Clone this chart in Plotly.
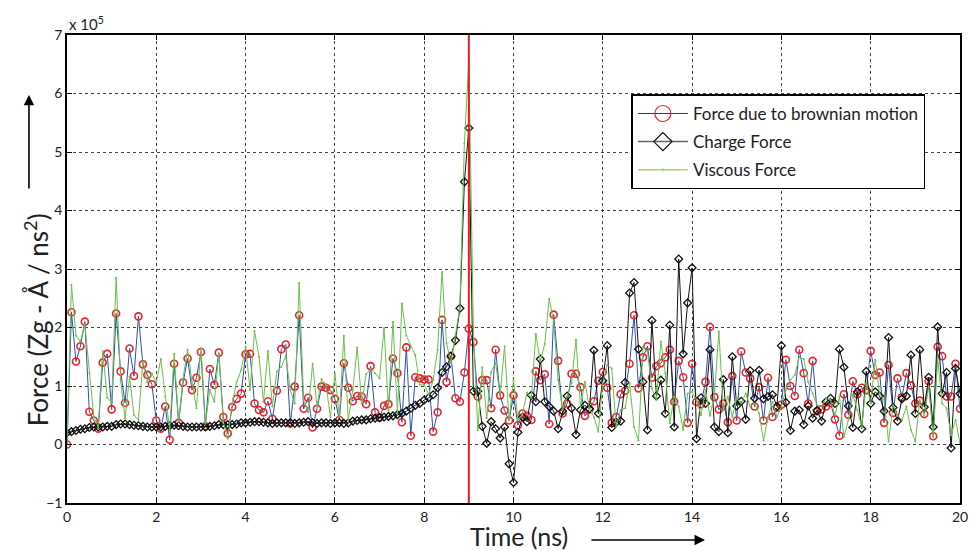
import plotly.graph_objects as go

# time samples (ns), 0.1 ns spacing
time_ns = [round(0.1 * i, 1) for i in range(201)]

# Force values in units of 1e5 (Zg·Å/ns²)
brownian = [
    0.00, 2.26, 1.42, 1.68, 2.10, 0.56, 0.41, 0.27, 1.40, 1.55,
    0.60, 2.24, 1.25, 0.71, 1.64, 1.17, 2.19, 1.37, 1.19, 1.03,
    0.41, 0.27, 0.65, 0.08, 1.38, 0.37, 1.06, 1.47, 0.93, 1.14,
    1.58, 0.31, 1.29, 1.02, 1.57, 0.47, 0.19, 0.64, 0.78, 0.87,
    1.54, 1.55, 0.70, 0.59, 0.55, 0.74, 0.44, 0.92, 1.63, 1.71,
    0.36, 0.99, 2.21, 0.61, 0.80, 0.29, 0.61, 0.99, 0.97, 0.93,
    0.78, 0.42, 1.39, 0.97, 0.74, 0.83, 0.82, 0.69, 1.34, 0.55,
    0.46, 0.66, 0.69, 1.47, 1.22, 0.38, 1.66, 0.15, 1.15, 1.13,
    1.11, 1.11, 0.22, 0.55, 2.13, 1.07, 1.51, 0.79, 0.73, 1.23,
    1.98, 1.75, 0.82, 1.10, 1.10, 0.62, 1.62, 0.84, 0.58, 0.41,
    0.84, 0.33, 0.53, 0.49, 0.42, 1.25, 1.10, 1.20, 0.35, 2.22,
    1.43, 0.53, 0.70, 1.21, 1.21, 0.98, 0.49, 0.60, 0.74, 1.09,
    1.24, 0.97, 0.37, 0.47, 0.86, 0.92, 1.38, 2.21, 0.96, 1.49,
    1.68, 1.14, 1.34, 1.39, 1.49, 1.62, 0.73, 1.43, 1.15, 0.37,
    1.38, 0.73, 0.69, 1.07, 2.01, 0.81, 0.60, 0.70, 0.38, 1.17,
    0.41, 1.59, 1.23, 1.13, 0.65, 0.98, 0.41, 1.14, 0.47, 0.63,
    0.68, 1.45, 1.00, 0.83, 1.62, 1.22, 0.70, 1.43, 0.57, 0.60,
    0.65, 0.71, 0.43, 0.15, 0.86, 0.51, 1.08, 0.86, 0.97, 0.93,
    1.60, 1.19, 1.23, 0.37, 1.36, 0.54, 1.13, 0.81, 1.22, 1.01,
    0.70, 0.75, 0.52, 1.08, 0.14, 1.67, 1.51, 0.82, 0.82, 1.38,
    0.61,
]

charge = [
    0.20, 0.22, 0.24, 0.26, 0.27, 0.29, 0.30, 0.30, 0.30, 0.31,
    0.31, 0.34, 0.35, 0.35, 0.34, 0.33, 0.32, 0.31, 0.30, 0.30,
    0.30, 0.30, 0.31, 0.32, 0.33, 0.32, 0.31, 0.30, 0.30, 0.30,
    0.30, 0.30, 0.31, 0.32, 0.34, 0.34, 0.34, 0.34, 0.35, 0.37,
    0.37, 0.38, 0.39, 0.39, 0.38, 0.37, 0.36, 0.37, 0.37, 0.37,
    0.37, 0.36, 0.37, 0.38, 0.39, 0.37, 0.36, 0.37, 0.37, 0.36,
    0.37, 0.37, 0.36, 0.37, 0.40, 0.41, 0.42, 0.42, 0.44, 0.45,
    0.46, 0.47, 0.48, 0.49, 0.51, 0.53, 0.57, 0.62, 0.67, 0.70,
    0.76, 0.80, 0.85, 0.97, 1.23, 1.33, 1.51, 1.78, 2.33, 4.49,
    5.41, 0.91, 0.91, 0.31, 0.02, 0.39, 0.27, 0.11, 0.30, -0.33,
    -0.65, 0.21, 0.47, 0.39, 0.84, 0.73, 1.46, 0.73, 0.65, 0.57,
    0.27, 0.57, 0.83, 0.62, 0.17, 0.59, 0.67, 0.61, 1.61, 0.53,
    1.09, 1.69, 0.29, 0.38, 0.40, 1.06, 2.59, 2.77, 1.63, 1.07,
    0.25, 2.12, 0.83, 1.10, 0.53, 2.04, 0.30, 3.17, 1.55, 2.42,
    3.02, 0.10, 0.80, 0.70, 1.62, 0.30, 0.22, 1.11, 0.20, 1.50,
    0.66, 0.74, 0.43, 1.26, 0.79, 1.27, 0.78, 0.82, 0.85, 0.65,
    1.69, 0.72, 0.24, 0.57, 0.59, 0.34, 0.66, 0.45, 0.58, 0.40,
    0.73, 0.79, 0.70, 1.63, 1.32, 0.66, 0.29, 0.90, 0.27, 1.25,
    0.70, 0.90, 0.83, 0.57, 1.83, 0.63, 0.40, 0.78, 0.83, 1.53,
    0.53, 1.62, 0.64, 1.15, 0.30, 2.01, 0.87, 1.23, -0.06, 1.30,
    0.87,
]

viscous = [
    0.00, 2.73, 1.86, 1.76, 2.05, 1.22, 0.47, 0.30, 1.60, 0.80,
    0.72, 2.85, 1.10, 0.45, 1.16, 0.50, 0.42, 1.42, 1.07, 1.22,
    1.05, 1.46, 0.82, 0.25, 1.55, 0.39, 1.13, 1.62, 1.07, 0.62,
    1.65, 0.36, 0.93, 0.73, 1.56, 0.39, 0.10, 0.70, 1.07, 1.27,
    1.67, 0.93, 1.94, 1.50, 0.73, 1.60, 0.65, 1.25, 1.33, 1.51,
    0.93, 0.70, 2.76, 0.76, 0.55, 1.38, 0.65, 1.12, 1.02, 0.47,
    1.21, 0.47, 1.86, 0.42, 0.93, 1.66, 0.70, 1.20, 1.29, 1.22,
    1.13, 1.99, 0.59, 2.10, 0.53, 2.41, 1.86, 1.68, 1.53, 1.02,
    1.02, 0.86, 1.10, 1.62, 2.95, 1.73, 1.40, 1.87, 2.36, 5.15,
    6.57, 2.00, 0.25, 1.32, 0.45, 1.24, 1.39, 0.84, 1.68, 0.42,
    1.10, 0.42, 0.52, 0.89, 0.79, 1.89, 1.42, 1.72, 2.49, 2.10,
    1.10, 0.59, 0.82, 1.05, 1.79, 0.65, 1.07, 0.62, 0.47, 0.22,
    1.05, 1.36, 1.30, 0.30, 0.59, 0.62, 1.05, 0.30, 0.07, 1.67,
    1.59, 0.96, 0.76, 1.76, 1.22, 0.36, 0.82, 0.65, 0.25, 0.87,
    0.90, 0.76, 0.50, 0.93, 0.49, 0.85, 1.93, 0.59, 0.82, 0.47,
    0.79, 0.70, 0.87, 0.65, 0.70, 0.53, 0.07, 0.47, 0.73, 0.47,
    0.65, 0.93, 1.10, 1.19, 1.50, 1.46, 1.07, 0.87, 0.67, 0.65,
    0.79, 0.76, 0.50, 0.82, 0.13, 0.42, 0.85, 0.59, 0.30, 1.05,
    0.70, 1.45, 0.87, 0.76, 0.05, 0.67, 0.50, 0.42, 0.65, 0.25,
    0.05, 0.76, 0.50, 0.99, 0.13, 1.47, 0.70, 0.62, 0.16, 0.42,
    0.02,
]

event_time = 9.0
x_ticks = [0, 2, 4, 6, 8, 10, 12, 14, 16, 18, 20]
y_ticks = [-1, 0, 1, 2, 3, 4, 5, 6, 7]
y_tick_text = ["\u22121", "0", "1", "2", "3", "4", "5", "6", "7"]

names = ["Force due to brownian motion", "Charge Force", "Viscous Force"]

BLUE = "#2f4fae"
RED = "#ec2227"
GREEN = "#6cc04a"
BLACK = "#111111"
FONT = "Lato, sans-serif"

fig = go.Figure()

fig.add_trace(go.Scatter(
    x=time_ns, y=brownian, mode="lines+markers", showlegend=False,
    line=dict(color=BLUE, width=1),
    marker=dict(symbol="circle-open", size=7, color=RED, line=dict(width=1.6, color=RED)),
))
fig.add_trace(go.Scatter(
    x=time_ns, y=charge, mode="lines+markers", showlegend=False,
    line=dict(color=BLACK, width=1),
    marker=dict(symbol="diamond-open", size=6, color=BLACK, line=dict(width=1.3, color=BLACK)),
))
fig.add_trace(go.Scatter(
    x=time_ns, y=viscous, mode="lines+markers", showlegend=False,
    line=dict(color=GREEN, width=1),
    marker=dict(symbol="circle", size=2, color=GREEN),
))

# legend entries (larger symbols, as in the original legend)
fig.add_trace(go.Scatter(
    x=[None], y=[None], mode="lines+markers", name=names[0], legendgroup="a",
    line=dict(color="#1f3a9a", width=1),
    marker=dict(symbol="circle-open", size=18, color=RED, line=dict(width=1.2, color=RED)),
))
fig.add_trace(go.Scatter(
    x=[None], y=[None], mode="lines+markers", name=names[1], legendgroup="b",
    line=dict(color="#666666", width=1.5),
    marker=dict(symbol="diamond-open", size=14, color=BLACK, line=dict(width=1.2, color=BLACK)),
))
fig.add_trace(go.Scatter(
    x=[None], y=[None], mode="lines+markers", name=names[2], legendgroup="c",
    line=dict(color="#a8d86a", width=1.5),
    marker=dict(symbol="circle", size=3, color="#a8d86a"),
))

fig.add_shape(type="line", x0=event_time, x1=event_time, y0=0, y1=1,
              xref="x", yref="paper", line=dict(color="#e41e26", width=2))

axis_common = dict(
    showline=True, linecolor="black", linewidth=1.5, mirror="ticks",
    ticks="inside", ticklen=5, tickcolor="black",
    showgrid=True, gridcolor="#444444", gridwidth=1, griddash="dot",
    zeroline=False, automargin=False,
    tickfont=dict(family=FONT, size=14, color="#222222"),
)

fig.update_xaxes(range=[0, 20], tickvals=x_ticks, **axis_common)
fig.update_yaxes(range=[-1, 7], tickvals=y_ticks, ticktext=y_tick_text, **axis_common)

fig.update_layout(
    width=969, height=551,
    margin=dict(l=67, r=9, t=35, b=48),
    paper_bgcolor="white", plot_bgcolor="white",
    font=dict(family=FONT, color="#222222"),
    legend=dict(
        x=0.632, y=0.873, xanchor="left", yanchor="top",
        bgcolor="white", bordercolor="black", borderwidth=1.5,
        font=dict(family=FONT, size=17, color="#222222"),
        itemwidth=50, tracegroupgap=3,
    ),
    annotations=[
        dict(text="x 10<sup>5</sup>", x=0.0, y=1.0, xref="paper", yref="paper",
             xanchor="left", yanchor="bottom", showarrow=False,
             font=dict(family=FONT, size=15, color="#222222")),
        dict(text="Force (Zg - \u00c5 / ns<sup>2</sup>)", x=-0.0345, y=0.391,
             xref="paper", yref="paper", textangle=-90, showarrow=False,
             xanchor="center", yanchor="middle",
             font=dict(family=FONT, size=26, color="#222222")),
        dict(text="Time (ns)", x=0.506, y=-0.0715, xref="paper", yref="paper",
             showarrow=False, xanchor="center", yanchor="middle",
             font=dict(family=FONT, size=25, color="#222222")),
        dict(text="", x=-0.0426, y=0.872, xref="paper", yref="paper",
             showarrow=True, ax=0, ay=95, axref="pixel", ayref="pixel",
             arrowhead=2, arrowsize=1.3, arrowwidth=1.6, arrowcolor="black"),
        dict(text="", x=0.7144, y=-0.079, xref="paper", yref="paper",
             showarrow=True, ax=-115, ay=0, axref="pixel", ayref="pixel",
             arrowhead=2, arrowsize=1.3, arrowwidth=1.6, arrowcolor="black"),
    ],
)

fig.write_html(
    "out.html",
    config={"displayModeBar": False},
    post_script="document.body.style.margin='0';document.body.style.overflow='hidden';",
)
